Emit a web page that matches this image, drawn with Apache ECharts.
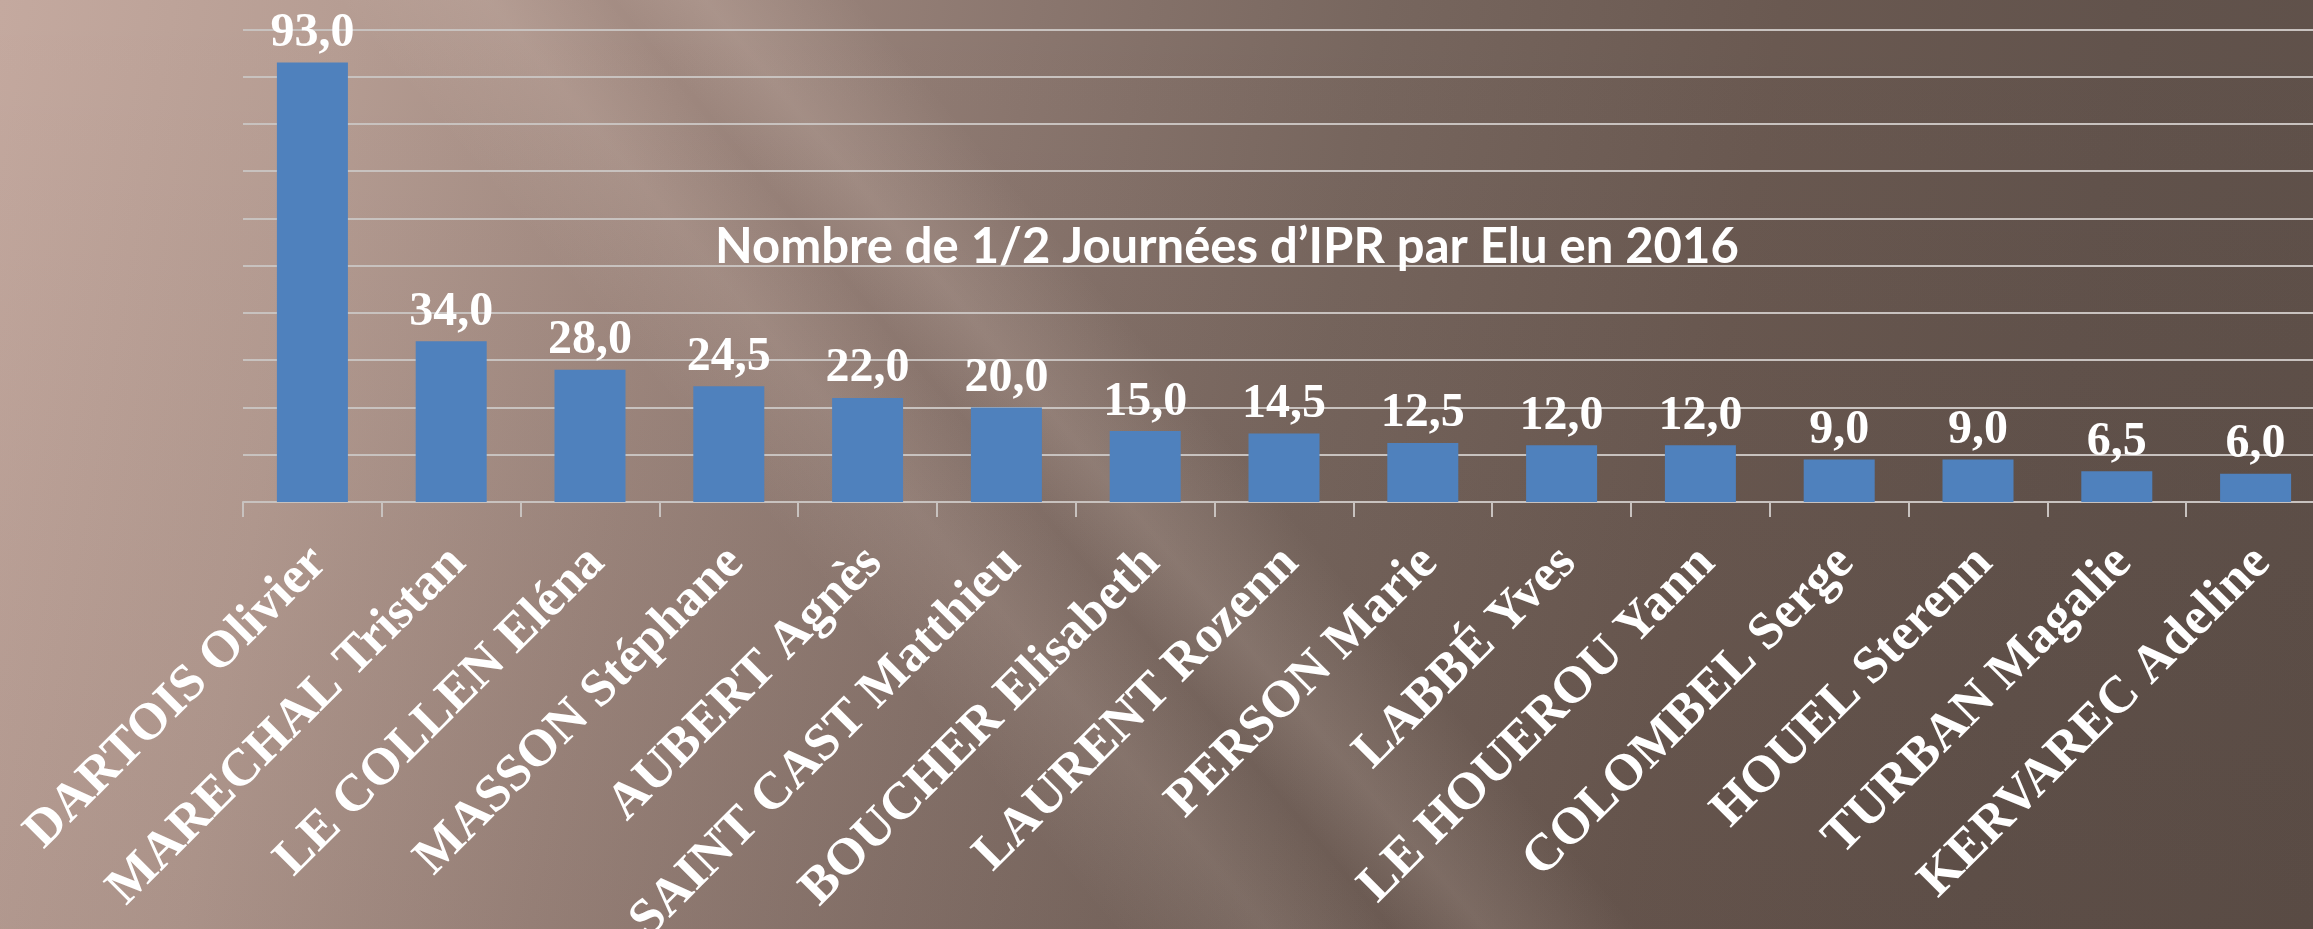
<!DOCTYPE html>
<html>
<head>
<meta charset="utf-8">
<script src="https://cdn.jsdelivr.net/npm/echarts@6/dist/echarts.min.js"></script>
<style>
html,body{margin:0;padding:0;width:2313px;height:929px;overflow:hidden;}
body{
  background:
    linear-gradient(50deg, rgba(255,235,225,0) 36%, rgba(255,235,225,0.10) 41%, rgba(255,235,225,0) 45%, rgba(255,235,225,0.13) 48%, rgba(255,235,225,0) 53%),
    linear-gradient(to bottom, rgba(30,15,10,0) 0%, rgba(30,15,10,0.08) 100%),
    linear-gradient(100deg, #c4a99f 0%, #b69d93 14%, #9f887f 28%, #8a766e 42%, #77665e 56%, #6a5951 72%, #62534c 86%, #5e5049 100%);
}
#chart{width:2313px;height:929px;}
</style>
</head>
<body>
<div id="chart"></div>
<script>
const titleText = "Nombre de 1/2 Journées d\u2019IPR par Elu en 2016";
const categories = ["DARTOIS Olivier","MARECHAL Tristan","LE COLLEN Eléna","MASSON Stéphane","AUBERT Agnès","SAINT CAST Matthieu","BOUCHER Elisabeth","LAURENT Rozenn","PERSON Marie","LABBÉ Yves","LE HOUEROU Yann","COLOMBEL Serge","HOUEL Sterenn","TURBAN Magalie","KERVAREC Adeline"];
const values = [93.0, 34.0, 28.0, 24.5, 22.0, 20.0, 15.0, 14.5, 12.5, 12.0, 12.0, 9.0, 9.0, 6.5, 6.0];
const yMin = 0, yMax = 100, yStep = 10;

const chart = echarts.init(document.getElementById('chart'), null, {renderer:'canvas'});
chart.setOption({
  backgroundColor: 'transparent',
  animation: false,
  grid: {left: 243, top: 29.3, width: 2082, height: 472.7, containLabel: false, outerBoundsMode: 'none'},
  graphic: [{
    type: 'text', z: 100,
    x: 1227, y: 247,
    style: {
      text: titleText, fill: '#ffffff',
      font: 'bold 49px Lato', textAlign: 'center', textVerticalAlign: 'middle'
    }
  }],
  xAxis: {
    type: 'category', data: categories,
    axisLine: {lineStyle: {color: '#c8c2bf', width: 2}},
    axisTick: {show: true, length: 15, lineStyle: {color: '#c8c2bf', width: 2}},
    axisLabel: {
      interval: 0, rotate: 45, margin: 38, color: '#ffffff',
      align: 'right', verticalAlign: 'top', lineHeight: 31, padding: [0, 6, 0, 0],
      fontFamily: 'Liberation Serif', fontWeight: 'bold', fontSize: 52
    }
  },
  yAxis: {
    type: 'value', min: yMin, max: yMax, interval: yStep,
    axisLabel: {show: false}, axisLine: {show: false}, axisTick: {show: false},
    splitLine: {lineStyle: {color: '#c8c2bf', width: 2}}
  },
  series: [{
    type: 'bar', data: values, barWidth: 71,
    itemStyle: {color: '#4f81bd'},
    label: {
      show: true, position: 'top', distance: 5, color: '#ffffff',
      fontFamily: 'Liberation Serif', fontWeight: 'bold', fontSize: 48,
      formatter: p => p.value.toFixed(1).replace('.', ',')
    }
  }]
});
</script>
</body>
</html>
